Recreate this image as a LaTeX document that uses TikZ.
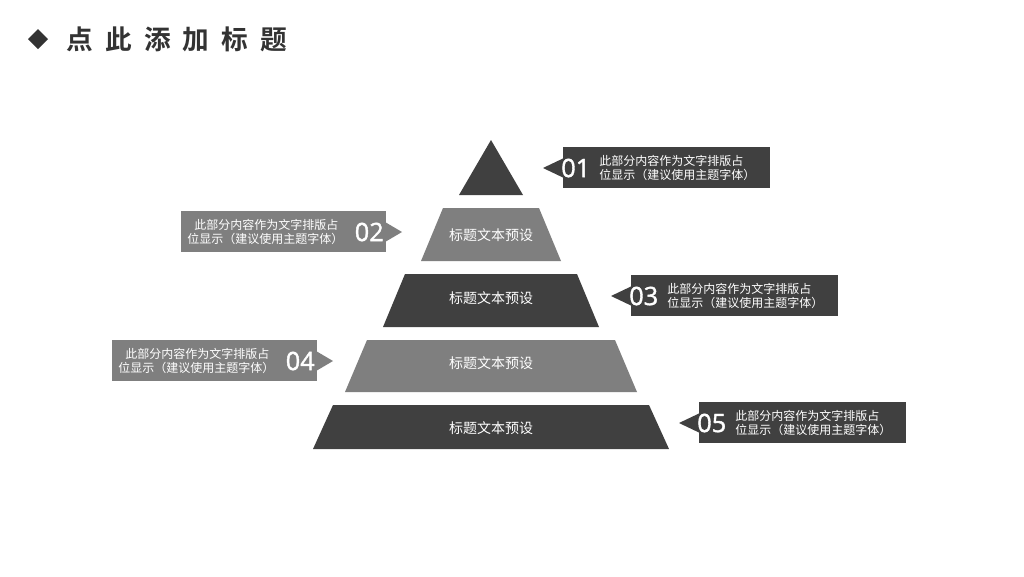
\documentclass[tikz,border=0pt]{standalone}
\usepackage{fontspec}
\setmainfont{Noto Sans CJK SC}
\newfontfamily\cjkb{Noto Sans CJK SC Bold}
\newfontfamily\numf{Open Sans}[FakeBold=1.5]
\definecolor{dk}{HTML}{404040}
\definecolor{md}{HTML}{7F7F7F}
\begin{document}
\begin{tikzpicture}[x=0.75pt,y=-0.75pt,
  tier/.style={font=\fontsize{10.5}{12}\selectfont, text=white},
  desc/.style={font=\fontsize{9}{11}\selectfont, text=white, align=left, inner sep=0pt},
  num/.style={font=\numf\fontsize{19}{20}\selectfont, text=white, inner sep=0pt}]
\useasboundingbox (0,0) rectangle (1024,576);
\fill[white] (0,0) rectangle (1024,576);
% title
\fill[dk!80!black] (38,29) -- (48,39) -- (38,49) -- (28,39) -- cycle;
\node[anchor=west, font=\cjkb\fontsize{20}{22}\selectfont, text=dk!80!black] (title) at (62,39) {点\hspace{0.45em}此\hspace{0.45em}添\hspace{0.45em}加\hspace{0.45em}标\hspace{0.45em}题};
% pyramid
\fill[dk] (491,140) -- (523,195) -- (459,195) -- cycle;
\fill[md] (443,208) -- (539,208) -- (561,261) -- (421,261) -- cycle;
\fill[dk] (405,274) -- (577,274) -- (599,327) -- (383,327) -- cycle;
\fill[md] (367,340) -- (615,340) -- (637,392) -- (345,392) -- cycle;
\fill[dk] (333,405) -- (649,405) -- (669,449) -- (313,449) -- cycle;
\node[tier] (t2) at (491,235) {标题文本预设};
\node[tier] (t3) at (491,298) {标题文本预设};
\node[tier] (t4) at (491,363) {标题文本预设};
\node[tier] (t5) at (491,428) {标题文本预设};
% callouts right
\foreach \n/\x/\y/\c in {01/563/147/dk,03/631/275/dk,05/699/402/dk}{
  \fill[\c] (\x,\y) rectangle ++(207,41);
  \fill[\c] (\x-20,\y+21) -- (\x+1,\y+11) -- (\x+1,\y+31) -- cycle;
  \node[num, anchor=west] (n\n) at (\x-2,\y+21) {\n};
  \node[desc, anchor=west] (d\n) at (\x+36,\y+21) {此部分内容作为文字排版占\\位显示（建议使用主题字体）};
}
% callouts left
\foreach \n/\x/\y/\c in {02/181/211/md,04/112/340/md}{
  \fill[\c] (\x,\y) rectangle ++(205,41);
  \fill[\c] (\x+221,\y+21) -- (\x+204,\y+11) -- (\x+204,\y+31) -- cycle;
  \node[num, anchor=east] (n\n) at (\x+203,\y+21) {\n};
  \node[desc, anchor=west] (d\n) at (\x+6,\y+21) {\hspace*{0.6em}此部分内容作为文字排版占\\位显示（建议使用主题字体）};
}
\end{tikzpicture}
\end{document}
